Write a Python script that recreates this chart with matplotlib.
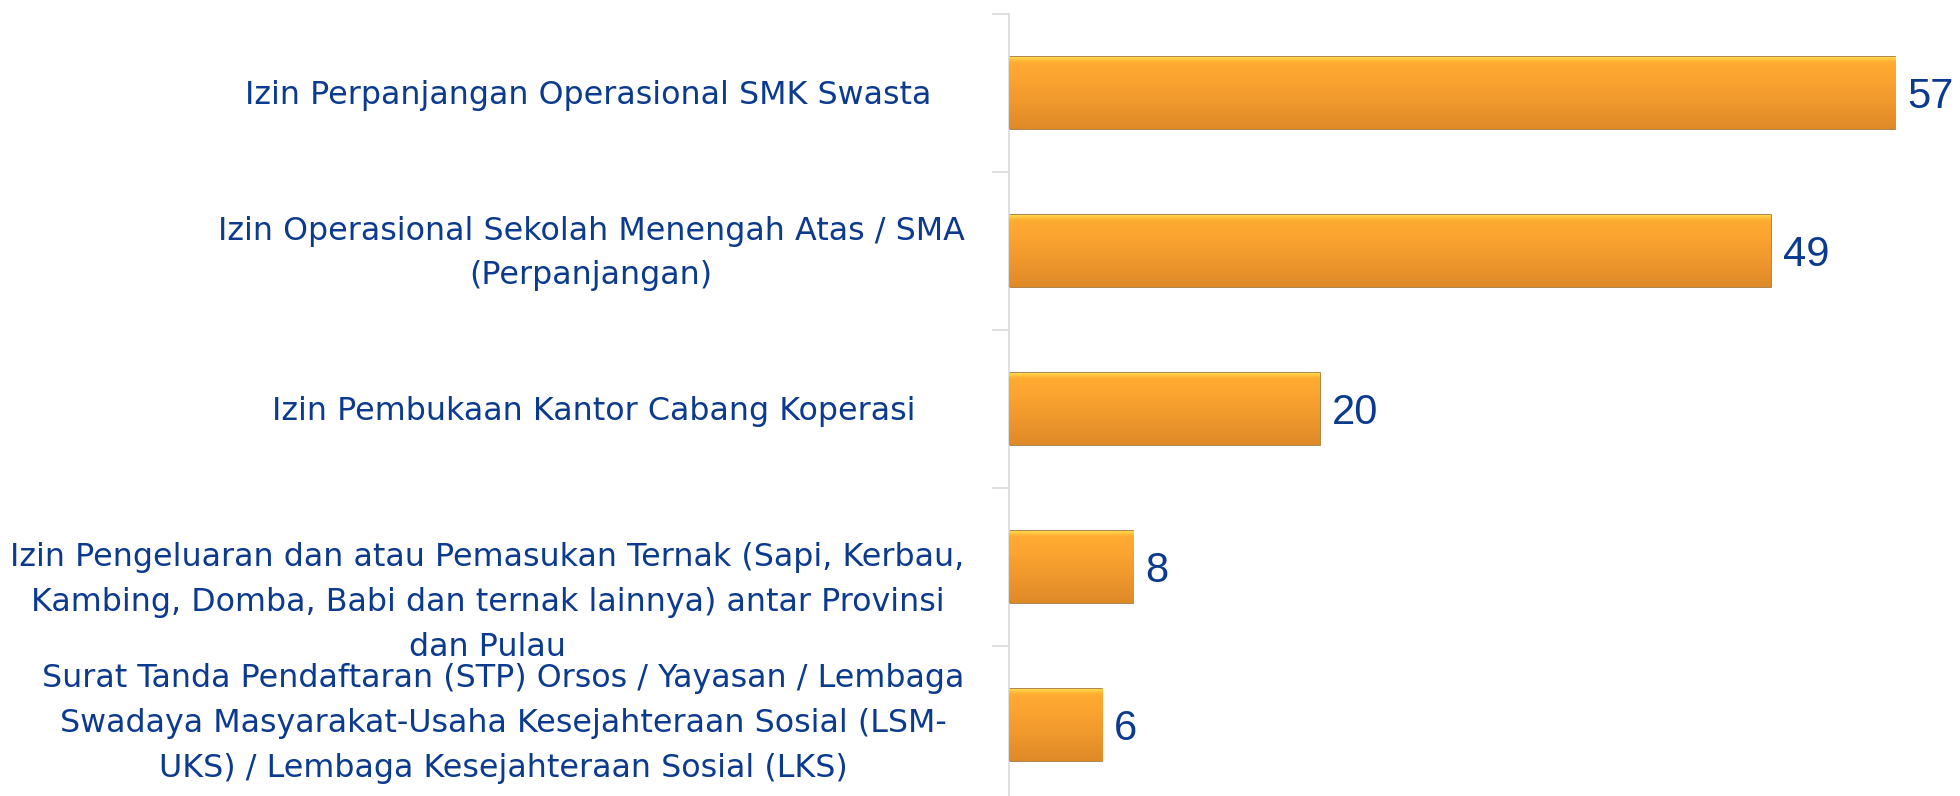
import numpy as np
import matplotlib
matplotlib.use("Agg")
import matplotlib.pyplot as plt
import matplotlib.transforms as mtransforms
from matplotlib.colors import LinearSegmentedColormap

# data, top to bottom
categories = [
    "Izin Perpanjangan Operasional SMK Swasta",
    "Izin Operasional Sekolah Menengah Atas / SMA\n(Perpanjangan)",
    "Izin Pembukaan Kantor Cabang Koperasi",
    "Izin Pengeluaran dan atau Pemasukan Ternak (Sapi, Kerbau,\n"
    "Kambing, Domba, Babi dan ternak lainnya) antar Provinsi\ndan Pulau",
    "Surat Tanda Pendaftaran (STP) Orsos / Yayasan / Lembaga\n"
    "Swadaya Masyarakat-Usaha Kesejahteraan Sosial (LSM-\n"
    "UKS) / Lembaga Kesejahteraan Sosial (LKS)",
]
values = [57, 49, 20, 8, 6]

TEXT = "#0B3A8F"
AXIS = "#D9D9D9"

fig = plt.figure(figsize=(19.6, 7.96), dpi=100)
ax = fig.add_axes([0.5148, -0.0101, 0.476, 0.9925])

y = np.arange(len(values))
bars = ax.barh(y, values, height=0.45, color="#F9A431",
               edgecolor="#A0702E", linewidth=1.2, zorder=2)

# vertical gradient inside each bar (bottom -> top)
grad = LinearSegmentedColormap.from_list(
    "bar", [(0.0, "#DE8A28"), (0.3, "#EC952C"), (0.7, "#FBA430"),
            (0.93, "#FFAC32"), (1.0, "#FFD84C")])
g = np.linspace(1, 0, 256).reshape(-1, 1)
for b in bars:
    x0, y0, w, h = b.get_x(), b.get_y(), b.get_width(), b.get_height()
    im = ax.imshow(g, cmap=grad, aspect="auto", origin="upper",
                   extent=[x0, x0 + w, y0 + h, y0], zorder=3)
    im.set_clip_path(b)

down = mtransforms.ScaledTranslation(0, -4 / 100, fig.dpi_scale_trans)
for v, yy in zip(values, y):
    ax.text(v + 0.75, yy, str(v), va="center", ha="left",
            fontsize=30, color=TEXT, family="Liberation Sans", zorder=4,
            transform=ax.transData + down)

ax.set_xlim(0, 60)
ax.set_ylim(len(values) - 0.5, -0.5)

ax.set_yticks(np.arange(len(values) + 1) - 0.5)
ax.set_yticklabels([])
ax.set_yticks(y, minor=True)
ax.set_yticklabels(categories, minor=True, fontsize=22.9, color=TEXT,
                   family="DejaVu Sans", multialignment="center",
                   linespacing=1.58)
ax.tick_params(axis="y", which="major", length=12, color=AXIS, width=1.2)
ax.tick_params(axis="y", which="minor", length=0, pad=32)
ax.set_xticks([])

# small nudges to match the original label placement
shifts = [(-33, 1), (0, 8), (-49, 1), (0, -25), (0, 12)]
for lab, (dx, dy) in zip(ax.get_yticklabels(minor=True), shifts):
    lab.set_transform(lab.get_transform() +
                      mtransforms.ScaledTranslation(dx / 100, dy / 100,
                                                    fig.dpi_scale_trans))

for s in ["top", "right", "bottom"]:
    ax.spines[s].set_visible(False)
ax.spines["left"].set_color(AXIS)
ax.spines["left"].set_linewidth(1.2)

fig.savefig("out.png", dpi=100)
